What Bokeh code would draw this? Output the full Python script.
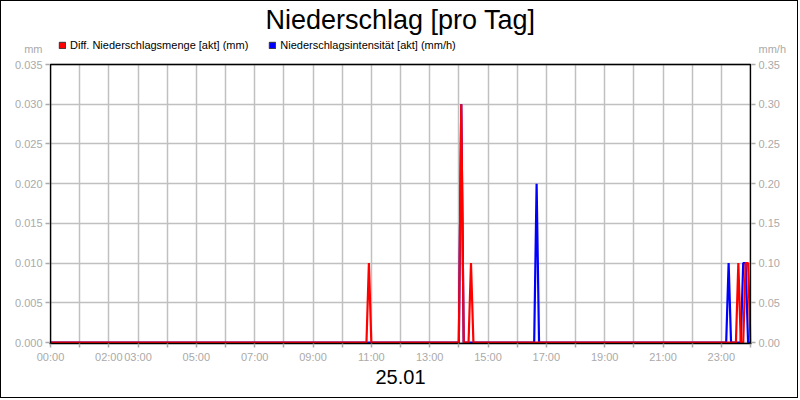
from bokeh.plotting import figure
from bokeh.models import (LinearAxis, Range1d, FixedTicker, NumeralTickFormatter,
                          Label, Legend, LegendItem, ColumnDataSource, BoxAnnotation)
from bokeh.embed import file_html
from bokeh.resources import INLINE

# ---------------- data ----------------
title_text = "Niederschlag [pro Tag]"
date_label = "25.01"
left_unit = "mm"
right_unit = "mm/h"
red_name = "Diff. Niederschlagsmenge [akt] (mm)"
blue_name = "Niederschlagsintensität [akt] (mm/h)"

red_times = ["00:00", "10:50", "10:55", "11:00", "14:00", "14:05", "14:10",
             "14:20", "14:25", "14:30", "23:30", "23:35", "23:40", "23:45",
             "23:50", "23:55", "24:00"]
red_values = [0, 0, 0.01, 0, 0, 0.03, 0, 0, 0.01, 0, 0, 0.01, 0, 0,
              0.01, 0.01, 0]

blue_times = ["00:00", "14:00", "14:05", "14:10", "16:35", "16:40", "16:45",
              "23:10", "23:15", "23:20", "23:40", "23:45", "23:50", "23:55",
              "24:00"]
blue_values = [0, 0, 0.30, 0, 0, 0.20, 0, 0, 0.10, 0, 0, 0.10, 0.10, 0, 0]

x_tick_labels = ["00:00", "02:00", "03:00", "05:00", "07:00", "09:00", "11:00",
                 "13:00", "15:00", "17:00", "19:00", "21:00", "23:00"]
left_ticks = [0, 0.005, 0.010, 0.015, 0.020, 0.025, 0.030, 0.035]
right_ticks = [0, 0.05, 0.10, 0.15, 0.20, 0.25, 0.30, 0.35]
left_max = 0.035
right_max = 0.35
day_hours = 24


def hours(s):
    h, m = s.split(":")
    return int(h) + int(m) / 60.0


# ---------------- layout (pixels) ----------------
FIG_W, FIG_H = 798, 398
PLOT_W, PLOT_H = 700, 278      # the boxed plot area
PLOT_TOP = 63                  # from top of figure
BORDER_X = 48                  # frame starts 1px left of the plot area
BOTTOM = FIG_H - (PLOT_TOP + PLOT_H + 1)

FONT = "Liberation Sans"
GRAY = "#aaaaaa"

px_h = PLOT_W / day_hours          # px per hour
px_l = PLOT_H / left_max           # px per mm (left)
px_r = PLOT_H / right_max          # px per mm/h (right)

x_range = Range1d(-1 / px_h, day_hours + 1 / px_h)
y_range = Range1d(-1 / px_l, left_max + PLOT_TOP / px_l)

p = figure(width=FIG_W, height=FIG_H, output_backend="svg", toolbar_location=None,
           x_range=x_range, y_range=y_range,
           min_border_left=BORDER_X, min_border_right=BORDER_X, min_border_top=0,
           min_border_bottom=BOTTOM)
p.extra_y_ranges = {"int": Range1d(-1 / px_r, right_max + PLOT_TOP / px_r)}
p.background_fill_color = "white"
p.border_fill_color = "white"
p.outline_line_color = None
p.styles = {"border": "1px solid black"}

# unit captions sit where an extra (unmarked) tick would be, above the plot top
unit_l = left_max + 15.4 / px_l
unit_r = right_max + 15.4 / px_r

# x axis
hour_ticks = list(range(0, day_hours + 1))
p.xaxis.ticker = FixedTicker(ticks=hour_ticks)
overrides = {h: "" for h in hour_ticks}
for lab in x_tick_labels:
    overrides[int(hours(lab))] = lab
p.xaxis.major_label_overrides = overrides
p.xaxis.axis_label = date_label
p.xaxis.axis_label_text_font = FONT
p.xaxis.axis_label_text_font_size = "20px"
p.xaxis.axis_label_text_font_style = "normal"
p.xaxis.axis_label_text_color = "black"
p.xaxis.axis_label_standoff = 4

# left axis: labels on major ticks, tick marks drawn as minor ticks
p.yaxis.ticker = FixedTicker(ticks=left_ticks + [unit_l], minor_ticks=left_ticks)
p.yaxis.formatter = NumeralTickFormatter(format="0.000")
p.yaxis.major_label_overrides = {unit_l: left_unit}

# right axis
ra = LinearAxis(y_range_name="int",
                ticker=FixedTicker(ticks=right_ticks + [unit_r], minor_ticks=right_ticks),
                formatter=NumeralTickFormatter(format="0.00"),
                major_label_overrides={unit_r: right_unit})
p.add_layout(ra, "right")

for ax in [p.xaxis[0], p.yaxis[0], ra]:
    ax.axis_line_color = None
    ax.major_tick_line_color = GRAY
    ax.major_tick_line_width = 1.5
    ax.major_tick_out = 4
    ax.major_tick_in = 0
    ax.minor_tick_line_color = None
    ax.major_label_text_color = GRAY
    ax.major_label_text_font = FONT
    ax.major_label_text_font_size = "11px"
    ax.major_label_standoff = 3
for ax in [p.yaxis[0], ra]:
    ax.major_tick_line_color = None
    ax.minor_tick_line_color = GRAY
    ax.minor_tick_line_width = 1.5
    ax.minor_tick_out = 4
    ax.minor_tick_in = 0
p.xaxis.axis_line_color = "black"
p.xaxis.axis_line_width = 1.5

p.xgrid.ticker = FixedTicker(ticks=hour_ticks)
p.ygrid.ticker = FixedTicker(ticks=left_ticks)
for g in [p.xgrid[0], p.ygrid[0]]:
    g.grid_line_color = "#c0c0c0"
    g.grid_line_width = 1.5
try:
    p.xgrid.cross_bounds = (0, left_max)
except Exception:
    pass

# series
blue_src = ColumnDataSource(dict(x=[hours(t) for t in blue_times], y=blue_values))
red_src = ColumnDataSource(dict(x=[hours(t) for t in red_times], y=red_values))
p.line("x", "y", source=blue_src, color="#0000ff", line_width=2.2, y_range_name="int")
p.line("x", "y", source=red_src, color="#ff0000", line_width=2.2)

# black box around the plot area (bottom edge falls outside the frame; the
# x axis line draws the bottom)
p.add_layout(BoxAnnotation(left=0, right=day_hours, bottom=-6 / px_l, top=left_max,
                           fill_color=None, fill_alpha=0, line_color="black",
                           line_alpha=1.0, line_width=1.5))

# legend with square swatches (invisible placeholder glyphs)
nan = float("nan")
rq = p.quad(left=[nan], right=[nan], bottom=[nan], top=[nan],
            fill_color="#ff0000", line_color="#333333")
bq = p.quad(left=[nan], right=[nan], bottom=[nan], top=[nan],
            fill_color="#0000ff", line_color="#333333")
leg = Legend(items=[LegendItem(label=red_name, renderers=[rq]),
                    LegendItem(label=blue_name, renderers=[bq])],
             location=(9, 292), orientation="horizontal", padding=0, margin=0,
             spacing=20, glyph_width=8, glyph_height=8, label_standoff=4,
             label_height=8, label_text_font=FONT, label_text_font_size="11px",
             label_text_color="black", border_line_color=None,
             background_fill_alpha=0)
p.add_layout(leg)

# title
p.add_layout(Label(x=day_hours / 2, y=left_max, y_offset=45, text=title_text,
                   text_align="center", text_baseline="alphabetic", text_font=FONT,
                   text_font_size="27px", text_color="black"))

open("out.html", "w").write(file_html(p, INLINE))
